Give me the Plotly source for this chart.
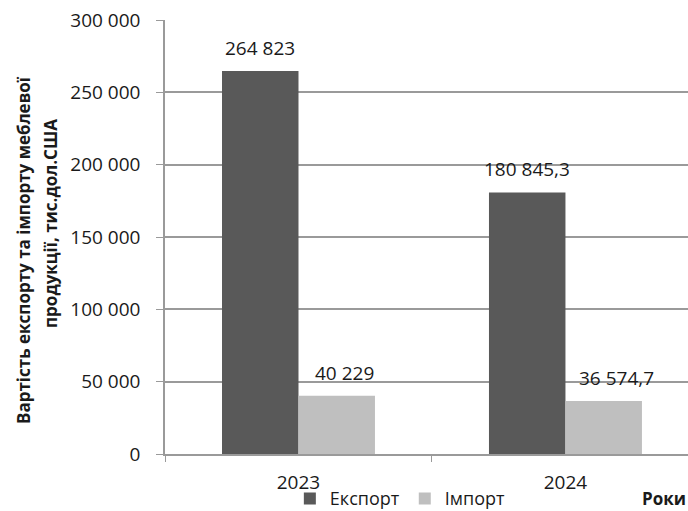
import plotly.graph_objects as go

years = ["2023", "2024"]
export_vals = [264823, 180845.3]
import_vals = [40229, 36574.7]
series_names = ["Експорт", "Імпорт"]
y_ticks = [0, 50000, 100000, 150000, 200000, 250000, 300000]

EXPORT_COLOR = "#595959"
IMPORT_COLOR = "#BFBFBF"
GRID_COLOR = "#9a9a9a"
TEXT_COLOR = "#1a1a1a"
FONT = "Open Sans"
FS = 19


def fmt(v):
    s = f"{v:,.1f}" if v % 1 else f"{v:,.0f}"
    return s.replace(",", " ").replace(".", ",")


fig = go.Figure()
fig.add_trace(go.Bar(x=years, y=export_vals, name=series_names[0],
                     marker=dict(color=EXPORT_COLOR, line=dict(width=0))))
fig.add_trace(go.Bar(x=years, y=import_vals, name=series_names[1],
                     marker=dict(color=IMPORT_COLOR, line=dict(width=0))))

# value labels above each bar (x given as category index)
annotations = []
for vals, dx in ((export_vals, -38.5), (import_vals, 38.5)):
    for i, v in enumerate(vals):
        extra = 0 if dx < 0 else (8 if i == 0 else 13)
        annotations.append(dict(
            x=i, y=v, xref="x", yref="y", text=fmt(v), showarrow=False,
            xanchor="center", yanchor="middle", xshift=dx + extra, yshift=23,
            font=dict(family=FONT, size=FS, color=TEXT_COLOR)))

# two-line vertical axis title
annotations.append(dict(
    x=0, y=0.47, xref="paper", yref="paper", xshift=-142,
    text="<b>Вартість експорту та імпорту меблевої</b>", textangle=-90,
    showarrow=False, xanchor="center", yanchor="middle",
    font=dict(family=FONT, size=17, color=TEXT_COLOR)))
annotations.append(dict(
    x=0, y=0.53, xref="paper", yref="paper", xshift=-114,
    text="<b>продукції, тис.дол.США</b>", textangle=-90,
    showarrow=False, xanchor="center", yanchor="middle",
    font=dict(family=FONT, size=17, color=TEXT_COLOR)))

# x axis name
annotations.append(dict(
    x=1, y=-0.1, xref="paper", yref="paper", yshift=-1, text="<b>Роки</b>",
    showarrow=False, xanchor="right", yanchor="middle",
    font=dict(family=FONT, size=17, color=TEXT_COLOR)))

fig.update_layout(
    width=688, height=511,
    margin=dict(l=165, r=0, t=20, b=57, autoexpand=False),
    paper_bgcolor="white", plot_bgcolor="white",
    barmode="group", bargap=0.427, bargroupgap=0,
    separators=", ",
    font=dict(family=FONT, size=FS, color=TEXT_COLOR),
    showlegend=True,
    legend=dict(orientation="h", x=0.45, xanchor="center",
                y=-0.103, yanchor="middle",
                font=dict(family=FONT, size=18, color=TEXT_COLOR),
                itemwidth=30, bgcolor="rgba(0,0,0,0)"),
    annotations=annotations,
)
fig.update_xaxes(
    type="category", automargin=False,
    range=[-0.5, 1.459], showgrid=False,
    showline=True, linecolor=GRID_COLOR, linewidth=1.5,
    ticks="outside", tickson="boundaries", ticklen=6, tickcolor=GRID_COLOR,
    tickfont=dict(family=FONT, size=FS, color=TEXT_COLOR),
    ticklabelstandoff=10,
)
fig.update_yaxes(
    automargin=False,
    range=[0, 300000], tickvals=y_ticks, tickformat=",d",
    showgrid=True, gridcolor=GRID_COLOR, gridwidth=1.5,
    showline=True, linecolor=GRID_COLOR, linewidth=1.5,
    ticks="outside", ticklen=7, tickcolor=GRID_COLOR,
    tickfont=dict(family=FONT, size=FS, color=TEXT_COLOR),
    ticklabelstandoff=12, zeroline=False,
)

fig.write_html("out.html")
